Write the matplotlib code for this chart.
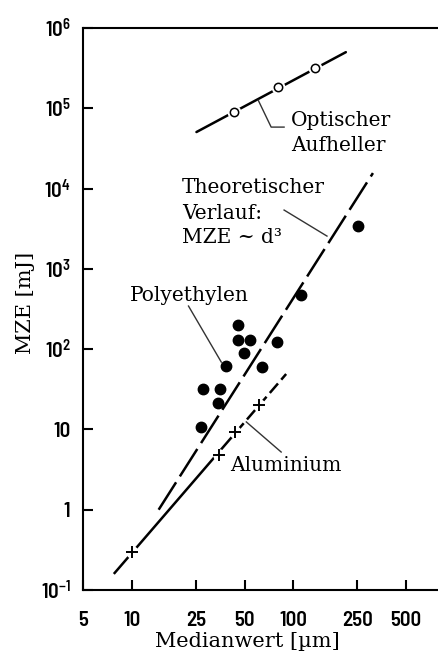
import matplotlib
matplotlib.use("Agg")
import matplotlib.pyplot as plt
from matplotlib.ticker import FixedLocator, FixedFormatter, NullLocator

# ---- data ----
opt_d = [43.2, 80.8, 137]
opt_mze = [9.0e4, 1.84e5, 3.17e5]
opt_line_d = [25.2, 212]
opt_line_mze = [5.06e4, 5.0e5]

pe_d = [252, 112, 45.7, 45.7, 54.3, 79.6, 49.9, 38.5, 64.4, 27.8, 35.4, 34.4, 27.0]
pe_mze = [3410, 472, 200, 130, 130, 122, 89.4, 61.6, 59.8, 31.8, 31.8, 21.3, 10.7]

al_d = [10, 34.9, 43.9, 61.6]
al_mze = [0.297, 4.8, 9.3, 20.1]
al_line_d = [7.85, 44, 90.5]
al_line_mze = [0.163, 9.1, 49]

theo_d = [14.7, 312]
theo_mze = [1.0, 1.56e4]

x_ticks = [5, 10, 25, 50, 100, 250, 500]
x_labels = ["5", "10", "25", "50", "100", "250", "500"]
y_ticks = [0.1, 1, 10, 100, 1e3, 1e4, 1e5, 1e6]
y_labels = [r"$\mathbf{10^{-1}}$", "1", "10", r"$\mathbf{10^{2}}$", r"$\mathbf{10^{3}}$",
            r"$\mathbf{10^{4}}$", r"$\mathbf{10^{5}}$", r"$\mathbf{10^{6}}$"]

tick_font = ["Barlow Semi Condensed", "Liberation Sans Narrow", "DejaVu Sans"]
plt.rcParams["mathtext.fontset"] = "custom"
plt.rcParams["mathtext.bf"] = "Barlow Semi Condensed:semibold"
plt.rcParams["mathtext.rm"] = "Barlow Semi Condensed:semibold"
serif = "DejaVu Serif"

fig = plt.figure(figsize=(4.39, 6.53), dpi=100)
ax = fig.add_axes([83 / 439, 63 / 653, 356 / 439, 562 / 653])
ax.set_xscale("log")
ax.set_yscale("log")
ax.set_xlim(5, 800)
ax.set_ylim(0.1, 1e6)

lw = 1.8
# optical brightener
ax.plot(opt_line_d, opt_line_mze, color="black", lw=lw, solid_capstyle="round")
ax.plot(opt_d, opt_mze, "o", ms=9, mfc="white", mec="white", zorder=3)
ax.plot(opt_d, opt_mze, "o", ms=6, mfc="white", mec="black", mew=1.1, zorder=4)

# theoretical
tl, = ax.plot(theo_d, theo_mze, color="black", lw=lw)
tl.set_dashes([13, 2.8])

# aluminium
ax.plot(al_line_d[:2], al_line_mze[:2], color="black", lw=lw)
al2, = ax.plot(al_line_d[1:], al_line_mze[1:], color="black", lw=lw)
al2.set_dashes([5, 2])
ax.plot(al_d, al_mze, "o", ms=8, mfc="white", mec="white", zorder=3)
ax.plot(al_d, al_mze, "+", ms=9, mec="black", mew=1.4, zorder=4)

# polyethylene
ax.plot(pe_d, pe_mze, "o", ms=7.5, color="black", zorder=5)

# leaders
lc = "#333333"
ax.plot([60.8, 73.1, 87.9], [1.26e5, 5.83e4, 5.83e4], color=lc, lw=1.0)
ax.plot([87.9, 162], [5400, 2560], color=lc, lw=1.0)
ax.plot([22.5, 35.9], [344, 69], color=lc, lw=1.0)
ax.plot([51.3, 84.3], [12.4, 5.23], color=lc, lw=1.0)

fs = 14.5
ax.text(97.3, 7.1e4, "Optischer", family=serif, fontsize=fs, va="center", ha="left")
ax.text(97.3, 3.48e4, "Aufheller", family=serif, fontsize=fs, va="center", ha="left")
ax.text(20.4, 10400, "Theoretischer", family=serif, fontsize=fs, va="center", ha="left")
ax.text(20.4, 4950, "Verlauf:", family=serif, fontsize=fs, va="center", ha="left")
ax.text(20.4, 2490, "MZE ~ d³", family=serif, fontsize=fs, va="center", ha="left")
ax.text(9.72, 472, "Polyethylen", family=serif, fontsize=fs, va="center", ha="left")
ax.text(40.8, 3.6, "Aluminium", family=serif, fontsize=fs, va="center", ha="left")

# axes styling
ax.spines["right"].set_visible(False)
for s in ["left", "top", "bottom"]:
    ax.spines[s].set_linewidth(1.5)

ax.xaxis.set_major_locator(FixedLocator(x_ticks))
ax.xaxis.set_major_formatter(FixedFormatter(x_labels))
ax.xaxis.set_minor_locator(NullLocator())
ax.yaxis.set_major_locator(FixedLocator(y_ticks))
ax.yaxis.set_major_formatter(FixedFormatter(y_labels))
ax.yaxis.set_minor_locator(NullLocator())
ax.tick_params(axis="both", which="major", direction="in", length=7, width=1.5,
               labelsize=15)
ax.tick_params(axis="x", pad=15)
ax.tick_params(axis="y", pad=9)
for lab in ax.get_xticklabels() + ax.get_yticklabels():
    lab.set_fontweight("semibold")
    lab.set_family(tick_font)

ax.set_xlabel("Medianwert [µm]", family=serif, fontsize=15)
ax.set_ylabel("MZE [mJ]", family=serif, fontsize=15)
ax.xaxis.set_label_coords(0.463, -0.074)
ax.yaxis.set_label_coords(-0.135, 0.511)

fig.savefig("out.png", dpi=100)
